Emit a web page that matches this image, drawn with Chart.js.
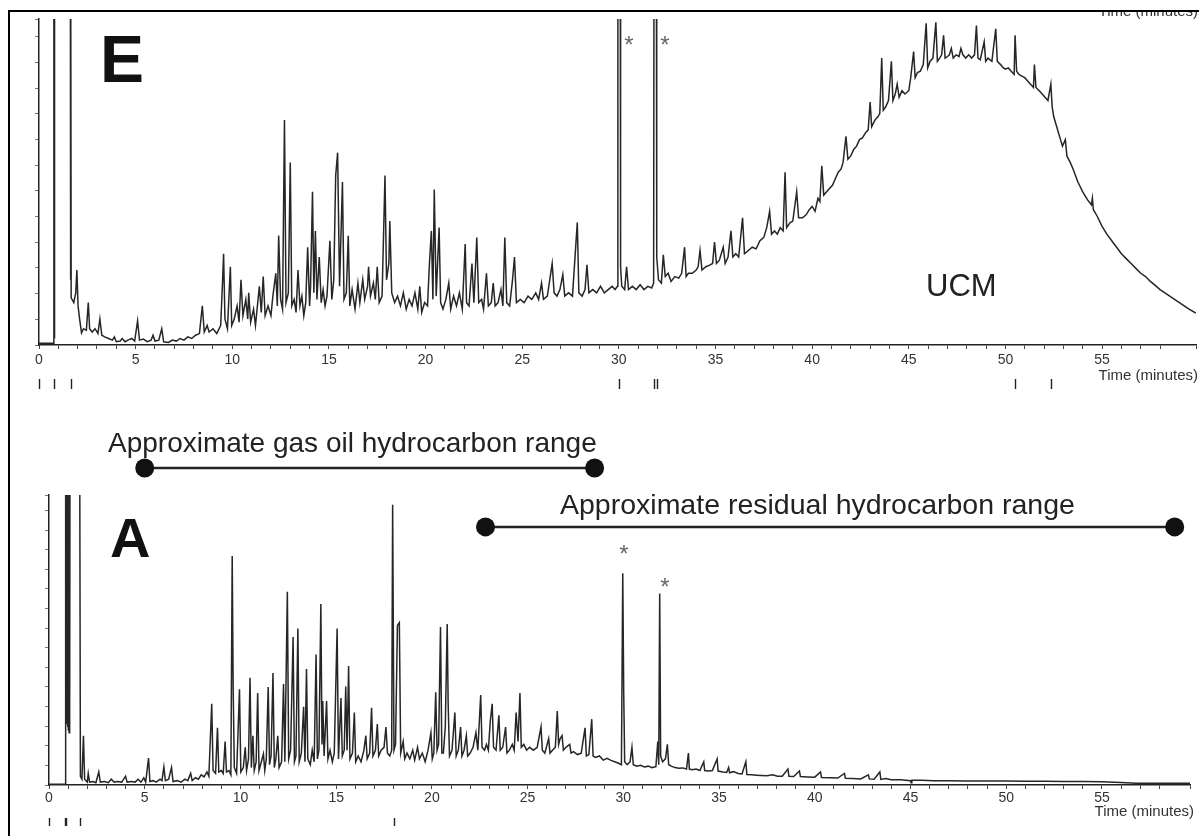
<!DOCTYPE html>
<html>
<head>
<meta charset="utf-8">
<script src="https://cdn.jsdelivr.net/npm/chart.js@4.4.1/dist/chart.umd.min.js"></script>
<style>
  body { margin: 0; background: #fff; width: 1199px; height: 836px; overflow: hidden; position: relative; }
  #frame { position: absolute; left: 8px; top: 10px; width: 1191px; height: 826px; border-left: 2px solid #000; border-top: 2px solid #000; box-sizing: border-box; }
  .box { position: absolute; left: 10px; width: 1189px; }
  #boxE { top: 12px; height: 390px; }
  #boxA { top: 400px; height: 436px; }
</style>
</head>
<body>
<div id="frame"></div>
<div class="box" id="boxE"><canvas id="chartE"></canvas></div>
<div class="box" id="boxA"><canvas id="chartA"></canvas></div>
<script>
// x tick labels (minutes)
const xTickLabels = ['0', '5', '10', '15', '20', '25', '30', '35', '40', '45', '50', '55'];

// sample E: [time, relative response] (100 = top of axis)
const traceE = [
  [0, 0.5], [0.76, 0.5], [0.77, 130], [0.79, 130], [0.8, 2], [0.81, 130],
  [1.62, 130], [1.63, 20], [1.645, 130], [1.665, 14.5],
  [1.7, 14.5], [1.8, 13], [1.9, 16], [1.96, 23], [2.02, 12], [2.1, 8], [2.2, 3.7], [2.3, 5], [2.45, 4.5],
  [2.55, 13], [2.62, 5], [2.75, 4], [2.9, 5], [3.05, 3.5], [3.15, 8], [3.25, 3], [3.4, 2.5], [3.6, 2],
  [3.8, 1.5], [3.9, 2.5], [4.0, 1], [4.2, 1.2], [4.3, 2], [4.45, 1], [4.6, 1.5], [4.8, 2], [4.95, 1.2],
  [5.1, 7.4], [5.2, 1.5], [5.4, 1.8], [5.6, 1], [5.8, 1.5], [5.9, 3], [6.0, 1.2], [6.2, 1.5], [6.35, 5],
  [6.45, 1], [6.7, 0.8], [6.9, 1.5], [7.1, 1.2], [7.3, 2], [7.5, 1.5], [7.7, 2.5], [7.9, 2], [8.1, 3],
  [8.3, 3.5], [8.45, 12], [8.55, 4], [8.7, 6], [8.8, 4], [9.0, 5], [9.2, 3.5], [9.4, 6], [9.5, 20],
  [9.55, 28], [9.62, 8], [9.75, 5], [9.9, 24], [9.97, 6], [10.1, 8], [10.25, 12], [10.35, 7], [10.45, 20],
  [10.55, 9], [10.7, 14], [10.8, 8], [10.85, 16], [10.95, 7], [11.1, 11], [11.2, 6], [11.3, 12], [11.4, 18],
  [11.5, 10], [11.6, 21], [11.7, 9], [11.85, 12], [12.0, 9], [12.1, 15], [12.25, 22], [12.33, 12],
  [12.4, 33.6], [12.5, 14], [12.6, 11], [12.7, 69], [12.78, 13], [12.9, 16], [13.0, 56], [13.08, 12],
  [13.2, 14], [13.3, 10], [13.4, 23], [13.5, 12], [13.6, 15], [13.7, 9], [13.8, 13], [13.9, 30], [14.0, 12],
  [14.05, 18], [14.15, 47], [14.22, 16], [14.3, 35], [14.38, 14], [14.5, 27], [14.6, 13], [14.7, 17],
  [14.8, 12], [14.9, 15], [15.05, 32], [15.15, 14], [15.25, 20], [15.35, 52], [15.45, 59], [15.55, 18],
  [15.7, 50], [15.78, 14], [15.9, 16], [16.0, 33.5], [16.08, 12], [16.2, 17], [16.35, 11], [16.5, 19],
  [16.6, 13], [16.75, 20], [16.85, 14], [17.0, 18], [17.05, 24], [17.15, 15], [17.3, 19], [17.4, 14],
  [17.5, 24], [17.6, 13], [17.75, 15], [17.9, 52], [17.98, 20], [18.1, 25], [18.15, 38], [18.25, 16],
  [18.4, 13], [18.55, 15], [18.7, 12], [18.85, 16], [19.0, 11], [19.15, 14], [19.3, 12], [19.45, 16],
  [19.6, 11], [19.7, 18], [19.8, 10], [19.95, 13], [20.1, 12], [20.2, 25], [20.3, 35], [20.38, 14],
  [20.45, 47.7], [20.55, 15], [20.7, 36], [20.78, 13], [20.9, 11], [21.05, 14], [21.2, 19], [21.3, 11],
  [21.45, 15], [21.6, 12], [21.75, 16], [21.9, 11], [22.05, 31], [22.12, 13], [22.25, 12], [22.4, 25],
  [22.5, 13], [22.65, 33], [22.75, 13], [22.9, 14], [23.0, 11], [23.15, 22], [23.25, 12], [23.4, 13],
  [23.5, 19], [23.6, 12], [23.75, 13], [23.9, 17], [24.0, 12], [24.1, 33], [24.2, 13], [24.35, 12],
  [24.5, 20], [24.6, 27], [24.7, 13], [24.9, 14], [25.1, 13], [25.3, 15], [25.5, 14], [25.7, 16],
  [25.85, 14], [26.0, 19], [26.1, 14], [26.3, 15], [26.45, 21], [26.55, 25], [26.65, 16], [26.8, 15],
  [26.95, 17], [27.1, 21.6], [27.2, 15], [27.4, 16], [27.6, 15], [27.85, 37.6], [27.93, 16], [28.1, 15],
  [28.25, 17], [28.35, 24.6], [28.45, 16], [28.65, 17], [28.85, 16], [29.05, 18], [29.25, 16], [29.45, 17],
  [29.65, 18], [29.8, 17], [29.93, 18], [29.95, 130], [30.07, 130], [30.09, 24], [30.15, 18], [30.3, 17],
  [30.4, 24], [30.5, 17], [30.7, 18], [30.9, 17], [31.1, 18.5], [31.3, 17], [31.5, 18], [31.7, 17.5],
  [31.8, 19], [31.82, 130], [31.94, 130], [31.96, 27], [32.05, 20], [32.2, 19], [32.3, 27.7], [32.4, 21],
  [32.55, 22], [32.7, 19.5], [32.9, 21], [33.1, 20.5], [33.25, 22], [33.4, 30], [33.48, 21], [33.6, 22],
  [33.8, 22], [34.0, 23], [34.1, 24], [34.2, 29], [34.3, 23], [34.5, 24], [34.7, 24.5], [34.85, 25],
  [34.95, 31.6], [35.05, 25], [35.2, 26], [35.4, 30], [35.5, 25], [35.65, 27], [35.8, 35], [35.9, 27],
  [36.05, 28], [36.2, 27], [36.4, 39], [36.5, 28], [36.7, 29], [36.9, 30], [37.1, 29.5], [37.3, 32],
  [37.5, 33], [37.65, 36], [37.8, 41], [37.9, 34], [38.05, 35], [38.2, 34], [38.35, 36], [38.5, 35],
  [38.6, 53], [38.68, 36], [38.85, 37.5], [39.0, 38], [39.2, 47], [39.3, 39], [39.5, 39], [39.7, 40],
  [39.85, 41.5], [40.0, 42.5], [40.15, 41], [40.3, 45], [40.4, 44], [40.5, 55], [40.6, 46], [40.75, 47],
  [40.9, 48], [41.05, 49], [41.2, 51], [41.35, 53], [41.5, 54], [41.6, 56], [41.75, 64], [41.85, 57],
  [42.0, 58], [42.15, 60], [42.3, 61], [42.45, 63], [42.6, 63.5], [42.75, 65], [42.9, 66], [43.0, 74.5],
  [43.08, 67], [43.25, 69], [43.4, 70], [43.5, 71], [43.6, 88], [43.68, 72], [43.8, 73], [43.95, 75],
  [44.1, 87], [44.18, 75], [44.3, 77], [44.4, 80], [44.5, 76], [44.65, 78], [44.8, 77], [45.0, 78],
  [45.1, 82], [45.25, 90], [45.33, 82], [45.45, 83.6], [45.6, 84], [45.75, 86], [45.9, 98.7], [45.98, 85],
  [46.1, 87], [46.25, 88], [46.4, 99], [46.48, 87], [46.6, 88], [46.7, 89], [46.8, 95], [46.88, 88],
  [47.0, 88.5], [47.1, 89], [47.2, 91], [47.3, 88], [47.45, 89], [47.6, 88.5], [47.7, 91], [47.8, 89],
  [47.95, 88], [48.1, 89], [48.25, 88], [48.4, 89], [48.5, 98], [48.58, 88], [48.7, 87.5], [48.9, 93],
  [48.98, 87], [49.1, 88], [49.3, 87], [49.5, 97], [49.58, 87], [49.75, 86], [49.9, 85], [50.0, 84.6],
  [50.15, 85], [50.3, 84], [50.45, 83], [50.5, 95], [50.58, 84], [50.7, 83], [50.85, 82.5], [51.0, 82],
  [51.15, 81], [51.3, 80], [51.45, 79], [51.5, 86], [51.58, 79], [51.75, 78], [51.9, 77], [52.05, 76],
  [52.2, 75], [52.35, 80], [52.42, 73], [52.5, 70], [52.65, 67], [52.8, 64], [52.95, 61], [53.1, 63],
  [53.18, 58], [53.35, 56], [53.5, 54], [53.75, 50], [54.0, 47], [54.25, 44.5], [54.45, 43], [54.5, 45],
  [54.55, 41.5], [54.75, 39.5], [55.0, 36.4], [55.25, 34], [55.5, 32], [55.75, 30], [56.0, 28],
  [56.25, 26.5], [56.5, 25], [56.75, 23.5], [57.0, 22], [57.25, 21], [57.5, 19.5], [57.75, 18.3],
  [58.0, 17], [58.25, 16], [58.5, 15], [58.75, 14], [59.0, 13], [59.25, 12], [59.5, 11], [59.85, 9.8]
];

// sample A: [time, relative response]
const traceA = [
  [0, 0.3], [0.85, 0.3], [0.87, 130], [0.89, 22], [0.91, 130], [0.93, 21], [0.95, 130], [0.97, 20],
  [0.99, 130], [1.01, 19], [1.03, 130], [1.05, 18], [1.07, 130], [1.09, 29], [1.1, 130],
  [1.6, 130], [1.64, 3], [1.72, 2], [1.8, 17], [1.86, 2], [2.0, 1], [2.05, 4], [2.12, 1], [2.3, 1.2],
  [2.45, 0.8], [2.6, 4.5], [2.68, 1], [2.9, 1.2], [3.1, 0.8], [3.25, 2], [3.4, 1], [3.6, 1.2], [3.8, 1],
  [3.9, 2], [4.0, 3], [4.08, 1], [4.3, 1.2], [4.5, 1], [4.65, 2], [4.8, 1], [4.95, 2.5], [5.05, 1],
  [5.2, 9.3], [5.27, 1.2], [5.45, 1.5], [5.6, 1], [5.8, 2], [5.9, 1.5], [6.0, 6.2], [6.08, 1.5],
  [6.25, 2], [6.4, 6], [6.48, 1.2], [6.7, 1.5], [6.9, 1], [7.1, 2], [7.25, 1.5], [7.4, 4], [7.48, 1.5],
  [7.65, 2.5], [7.8, 2], [7.95, 3.5], [8.1, 2.8], [8.25, 4.5], [8.35, 3], [8.5, 28], [8.57, 5], [8.7, 4],
  [8.8, 19.7], [8.87, 4.5], [9.0, 5], [9.1, 4], [9.2, 15], [9.27, 4.5], [9.4, 5], [9.5, 3.5], [9.57, 79],
  [9.62, 33], [9.68, 6], [9.8, 4], [9.95, 33], [10.02, 4.5], [10.15, 6], [10.25, 13], [10.32, 5],
  [10.42, 9], [10.5, 37], [10.57, 6], [10.65, 17], [10.72, 5], [10.82, 8], [10.9, 31.7], [10.97, 5],
  [11.05, 7], [11.2, 10.7], [11.27, 5], [11.35, 9], [11.45, 33.8], [11.52, 7], [11.6, 10], [11.7, 38.6],
  [11.77, 6], [11.85, 9], [11.95, 17], [12.02, 6], [12.15, 8], [12.25, 34.8], [12.32, 8], [12.45, 66.6],
  [12.52, 9], [12.62, 12], [12.75, 51], [12.82, 8], [12.9, 10], [13.0, 54], [13.07, 8], [13.18, 11],
  [13.3, 27], [13.37, 8], [13.45, 40], [13.52, 9], [13.65, 7], [13.75, 12], [13.85, 8], [13.95, 45],
  [14.02, 9], [14.1, 12], [14.2, 62.4], [14.26, 14], [14.3, 29], [14.37, 10], [14.5, 29], [14.57, 9],
  [14.68, 12], [14.8, 8], [14.9, 11], [15.05, 54], [15.12, 9], [15.25, 30], [15.32, 10], [15.42, 12],
  [15.5, 34], [15.57, 12], [15.65, 41], [15.72, 9], [15.85, 11], [15.95, 25], [16.02, 8], [16.15, 10],
  [16.3, 8], [16.45, 12], [16.55, 17], [16.62, 9], [16.75, 11], [16.85, 26.6], [16.92, 10], [17.05, 12],
  [17.15, 21], [17.22, 10], [17.35, 12], [17.5, 13], [17.6, 20], [17.68, 11], [17.8, 10], [17.9, 12],
  [17.95, 96.6], [18.02, 12], [18.1, 14], [18.2, 55], [18.3, 56], [18.37, 11], [18.5, 15], [18.58, 9],
  [18.7, 11], [18.85, 9], [19.0, 12], [19.1, 8.6], [19.25, 13], [19.35, 9], [19.5, 11], [19.65, 8],
  [19.8, 12], [19.95, 18], [20.02, 9], [20.1, 11], [20.2, 32], [20.27, 12], [20.35, 14], [20.45, 54.5],
  [20.52, 11], [20.6, 11], [20.7, 20], [20.8, 55.5], [20.85, 28], [20.92, 10], [21.05, 12], [21.2, 25],
  [21.27, 10], [21.38, 12], [21.5, 20], [21.57, 10], [21.68, 12], [21.8, 17], [21.87, 10], [22.0, 11],
  [22.15, 13], [22.3, 18], [22.4, 12], [22.55, 31], [22.62, 13], [22.75, 12], [22.85, 14], [22.95, 12],
  [23.05, 22], [23.15, 28], [23.22, 13], [23.35, 12], [23.5, 24], [23.57, 12], [23.7, 13], [23.85, 20],
  [23.92, 11], [24.05, 12], [24.2, 14], [24.3, 12], [24.4, 25], [24.5, 15], [24.6, 31.7], [24.67, 13],
  [24.8, 14], [24.95, 12], [25.1, 13], [25.3, 12], [25.5, 13], [25.7, 20], [25.77, 12], [25.9, 11],
  [26.1, 16], [26.17, 11], [26.3, 12], [26.45, 13], [26.55, 25.5], [26.62, 14], [26.7, 16], [26.8, 17],
  [26.87, 12], [27.0, 13], [27.2, 14], [27.27, 11], [27.4, 11.5], [27.6, 10.5], [27.8, 11], [28.0, 19.7],
  [28.07, 10], [28.2, 10.5], [28.35, 22.7], [28.42, 10], [28.55, 9.5], [28.75, 10], [28.95, 8.6],
  [29.15, 9.2], [29.35, 8.5], [29.55, 8], [29.75, 7.5], [29.9, 7], [29.97, 73], [30.02, 32], [30.07, 8],
  [30.2, 7], [30.35, 8], [30.45, 13], [30.52, 7], [30.7, 6.5], [30.9, 6.8], [31.1, 6.2], [31.3, 6.5],
  [31.5, 6], [31.7, 6.3], [31.8, 15], [31.85, 7], [31.9, 66], [31.95, 10], [32.05, 8], [32.2, 9],
  [32.3, 14], [32.37, 7], [32.5, 6.5], [32.7, 6], [32.9, 5.8], [33.1, 5.9], [33.3, 5.5], [33.4, 11],
  [33.45, 5.5], [33.6, 5.3], [33.8, 5.5], [34.0, 5], [34.2, 8], [34.25, 5], [34.45, 4.8], [34.65, 5],
  [34.9, 9], [34.95, 4.8], [35.2, 4.5], [35.4, 4.3], [35.5, 6], [35.55, 4.2], [35.75, 4.6], [36.0, 4],
  [36.2, 3.8], [36.4, 8], [36.45, 3.6], [36.7, 3.5], [36.95, 3.4], [37.2, 3.3], [37.5, 3.2], [37.8, 3.5],
  [38.05, 3], [38.3, 3], [38.6, 5.5], [38.65, 3], [38.9, 2.9], [39.2, 4.8], [39.25, 2.9], [39.6, 2.8],
  [40.0, 2.7], [40.3, 4.5], [40.35, 2.6], [40.8, 2.5], [41.2, 2.4], [41.55, 4], [41.6, 2.3], [42.0, 2.2],
  [42.4, 2.1], [42.8, 3.5], [42.85, 2.1], [43.1, 2.0], [43.4, 4.5], [43.45, 1.9], [43.7, 2.2], [44.0, 1.8],
  [44.5, 1.8], [45.0, 1.5], [45.03, 0.8], [45.07, 1.6], [45.6, 1.6], [46.2, 1.5], [47.0, 1.5], [48.0, 1.4],
  [49.0, 1.4], [50.0, 1.4], [51.0, 1.3], [52.0, 1.3], [53.0, 1.2], [54.0, 1.2], [55.0, 1.1], [56.0, 0.9],
  [56.8, 0.6], [57.5, 0.6], [58.5, 0.6], [59.6, 0.6]
];

// short event marks printed under each time axis
const markTimesE = [0, 0.78, 1.65, 30.0, 31.8, 31.95, 50.5, 52.35];
const markTimesA = [0, 0.83, 0.87, 1.62, 18.0];

// approximate hydrocarbon ranges (minutes) drawn over chart A, and their heights
const gasOilRange = [5.0, 28.5];
const residualRange = [22.8, 58.8];
const rangeLevels = [109.3, 89];

const ink = '#262626';
const font = "'Liberation Sans', Arial, sans-serif";

const textPlugin = {
  id: 'textPlugin',
  afterDraw(chart, args, opts) {
    const ctx = chart.ctx;
    const x = chart.scales.x;
    const y = chart.scales.y;
    ctx.save();
    ctx.strokeStyle = '#222';
    ctx.lineWidth = 1.4;
    opts.marks.forEach(t => {
      const px = Math.round(x.getPixelForValue(t)) + 0.5;
      ctx.beginPath();
      ctx.moveTo(px, opts.markY);
      ctx.lineTo(px, opts.markY + opts.markLen);
      ctx.stroke();
    });
    // end dots of the range bars
    ctx.fillStyle = '#111';
    (opts.ranges || []).forEach(r => {
      r.xs.forEach(t => {
        ctx.beginPath();
        ctx.arc(x.getPixelForValue(t), y.getPixelForValue(r.level), 9.5, 0, Math.PI * 2);
        ctx.fill();
      });
    });
    opts.texts.forEach(tx => {
      ctx.font = tx.font;
      ctx.fillStyle = tx.color || '#222';
      ctx.textAlign = tx.align || 'left';
      ctx.textBaseline = tx.base || 'alphabetic';
      ctx.fillText(tx.text, tx.x, tx.y);
    });
    ctx.restore();
  }
};

function xScale(maxT, pad) {
  return {
    type: 'linear',
    min: 0,
    max: maxT,
    border: { display: true, color: '#222', width: 1.5 },
    grid: { drawOnChartArea: false, drawTicks: true, tickLength: 4, color: '#444' },
    ticks: {
      stepSize: 1,
      autoSkip: false,
      maxRotation: 0,
      padding: pad,
      color: '#333',
      font: { family: font, size: 14 },
      callback: v => xTickLabels.includes(String(v)) ? String(v) : ''
    },
    afterFit: s => { s.height = 40; }
  };
}

function yScale(step, width) {
  return {
    type: 'linear',
    min: 0,
    max: 100,
    border: { display: true, color: '#222', width: 1.5 },
    grid: { drawOnChartArea: false, drawTicks: true, tickLength: 4, color: '#777' },
    ticks: { display: false, stepSize: step },
    afterFit: s => { s.width = width; }
  };
}

const star = (x, y) => ({ text: '*', x, y, font: `24px ${font}`, color: '#666', align: 'center', base: 'middle' });

new Chart(document.getElementById('chartE'), {
  type: 'line',
  data: {
    datasets: [{
      data: traceE.map(([x, y]) => ({ x, y })),
      borderColor: ink,
      borderWidth: 1.5,
      pointRadius: 0,
      tension: 0
    }]
  },
  options: {
    responsive: true,
    maintainAspectRatio: false,
    animation: false,
    layout: { padding: { top: 7, right: 3, bottom: 17, left: 0 } },
    scales: { x: xScale(59.86, 3), y: yScale(7.874, 29) },
    plugins: {
      legend: { display: false },
      tooltip: { enabled: false },
      textPlugin: {
        marks: markTimesE, markY: 367, markLen: 10,
        texts: [
          { text: 'E', x: 90, y: 70, font: `bold 66px ${font}`, color: '#111' },
          { text: 'UCM', x: 916, y: 284, font: `31px ${font}` },
          star(619, 34), star(655, 34),
          { text: 'Time (minutes)', x: 1188, y: 0, font: `15px ${font}`, color: '#333', align: 'right', base: 'middle' },
          { text: 'Time (minutes)', x: 1188, y: 364, font: `15px ${font}`, color: '#333', align: 'right', base: 'middle' }
        ]
      }
    }
  },
  plugins: [textPlugin]
});

new Chart(document.getElementById('chartA'), {
  type: 'line',
  data: {
    datasets: [
      {
        data: traceA.map(([x, y]) => ({ x, y })),
        borderColor: ink,
        borderWidth: 1.5,
        pointRadius: 0,
        tension: 0
      },
      {
        data: gasOilRange.map(x => ({ x, y: rangeLevels[0] })),
        borderColor: '#222',
        borderWidth: 2.5,
        pointRadius: 0,
        clip: false
      },
      {
        data: residualRange.map(x => ({ x, y: rangeLevels[1] })),
        borderColor: '#222',
        borderWidth: 2.5,
        pointRadius: 0,
        clip: false
      }
    ]
  },
  options: {
    responsive: true,
    maintainAspectRatio: false,
    animation: false,
    layout: { padding: { top: 95, right: 9, bottom: 11, left: 0 } },
    scales: { x: xScale(59.6, 1), y: yScale(6.76, 39) },
    plugins: {
      legend: { display: false },
      tooltip: { enabled: false },
      textPlugin: {
        marks: markTimesA, markY: 418, markLen: 8,
        ranges: [
          { xs: gasOilRange, level: rangeLevels[0] },
          { xs: residualRange, level: rangeLevels[1] }
        ],
        texts: [
          { text: 'Approximate gas oil hydrocarbon range', x: 98, y: 52, font: `28px ${font}`, color: '#222' },
          { text: 'Approximate residual hydrocarbon range', x: 550, y: 114, font: `28.5px ${font}`, color: '#222' },
          { text: 'A', x: 100, y: 157, font: `bold 56px ${font}`, color: '#111' },
          star(614, 155), star(655, 188),
          { text: 'Time (minutes)', x: 1184, y: 412, font: `15px ${font}`, color: '#333', align: 'right', base: 'middle' }
        ]
      }
    }
  },
  plugins: [textPlugin]
});
</script>
</body>
</html>
